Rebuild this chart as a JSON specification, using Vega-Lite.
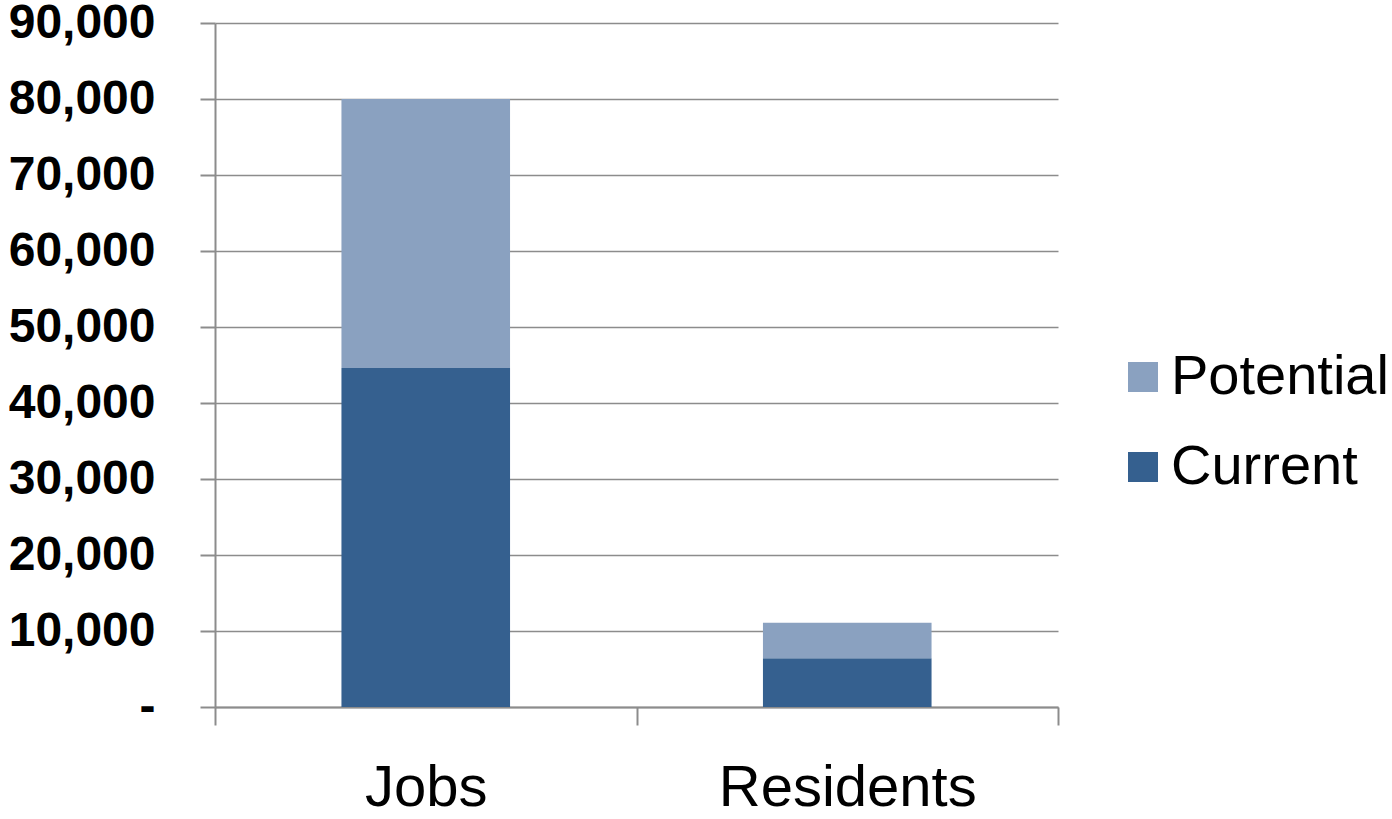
{
  "$schema": "https://vega.github.io/schema/vega-lite/v6.json",
  "width": 843,
  "height": 684,
  "autosize": {"type": "none"},
  "padding": {"left": 215, "top": 23, "right": 334, "bottom": 112},
  "background": "white",
  "config": {
    "view": {"stroke": null},
    "font": "Liberation Sans"
  },
  "data": {
    "values": [
      {"category": "Jobs", "series": "Current", "value": 44600},
      {"category": "Jobs", "series": "Potential", "value": 35400},
      {"category": "Residents", "series": "Current", "value": 6400},
      {"category": "Residents", "series": "Potential", "value": 4700}
    ]
  },
  "mark": {"type": "bar", "width": {"band": 0.4}},
  "encoding": {
    "x": {
      "field": "category",
      "type": "nominal",
      "sort": ["Jobs", "Residents"],
      "scale": {"paddingInner": 0, "paddingOuter": 0},
      "axis": {
        "title": null,
        "labelAngle": 0,
        "labelFont": "Liberation Sans",
        "labelFontSize": 58,
        "labelColor": "#000000",
        "labelPadding": 34,
        "labelLimit": 0,
        "tickBand": "extent",
        "tickSize": 18,
        "tickColor": "#8c8c8c",
        "tickWidth": 2,
        "domainColor": "#8c8c8c",
        "domainWidth": 2,
        "grid": false
      }
    },
    "y": {
      "field": "value",
      "type": "quantitative",
      "stack": "zero",
      "scale": {"domain": [0, 90000], "nice": false},
      "axis": {
        "title": null,
        "values": [0, 10000, 20000, 30000, 40000, 50000, 60000, 70000, 80000, 90000],
        "labelExpr": "datum.value == 0 ? '-\u00a0\u00a0' : format(datum.value, ',')",
        "labelFont": "Liberation Sans",
        "labelFontSize": 48,
        "labelFontWeight": "bold",
        "labelColor": "#000000",
        "labelPadding": 45,
        "labelLimit": 0,
        "tickSize": 15,
        "tickColor": "#8c8c8c",
        "tickWidth": 2,
        "domainColor": "#8c8c8c",
        "domainWidth": 2,
        "grid": true,
        "gridColor": "#8c8c8c",
        "gridWidth": 1.5
      }
    },
    "color": {
      "field": "series",
      "type": "nominal",
      "scale": {"domain": ["Potential", "Current"], "range": ["#8aa1c0", "#35608f"]},
      "legend": {
        "title": null,
        "orient": "none",
        "legendX": 900,
        "legendY": 326,
        "symbolType": "square",
        "symbolSize": 900,
        "symbolStrokeWidth": 0,
        "labelFont": "Liberation Sans",
        "labelFontSize": 56,
        "labelColor": "#000000",
        "labelOffset": 0,
        "labelLimit": 0,
        "rowPadding": 34
      }
    },
    "order": {"field": "series", "sort": "ascending"}
  }
}
